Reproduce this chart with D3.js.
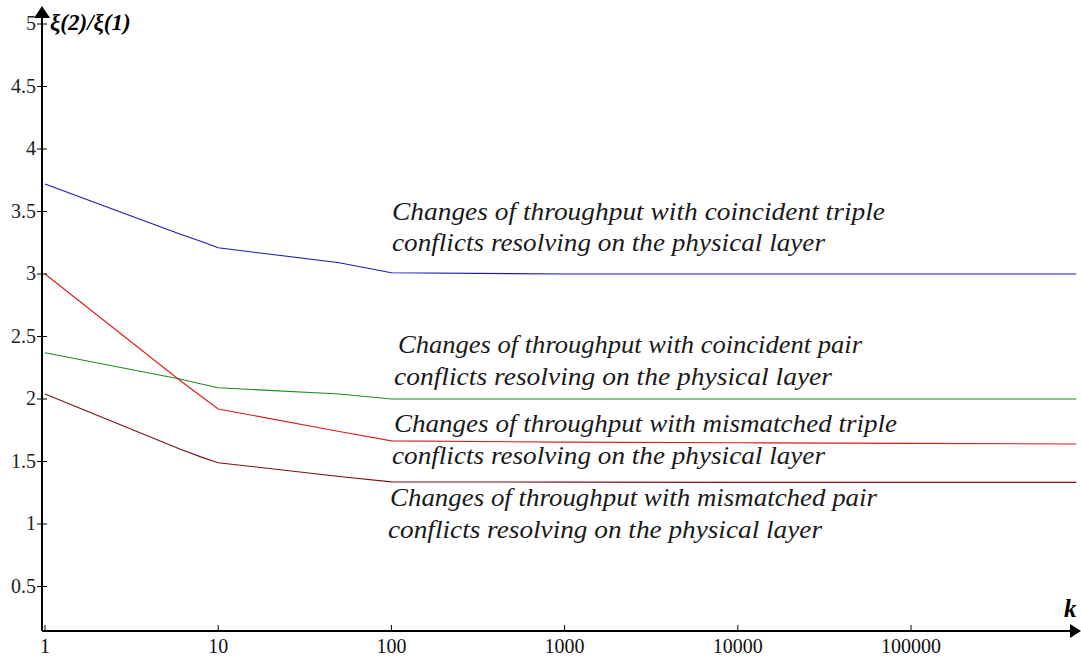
<!DOCTYPE html>
<html>
<head>
<meta charset="utf-8">
<script src="https://cdn.jsdelivr.net/npm/d3@7"></script>
<style>
  html, body { margin: 0; padding: 0; background: #fff; }
  svg { display: block; }
  svg text { font-family: 'Liberation Serif'; }
</style>
</head>
<body>
<svg id="chart" width="1081" height="658"></svg>
<script>
// ---- data ----
const xTicks = [1, 10, 100, 1000, 10000, 100000];
const xTickLabels = ["1", "10", "100", "1000", "10000", "100000"];
const yTicks = [0.5, 1, 1.5, 2, 2.5, 3, 3.5, 4, 4.5, 5];
const yTickLabels = ["0.5", "1", "1.5", "2", "2.5", "3", "3.5", "4", "4.5", "5"];

const kValues = [1, 6, 8, 10, 50, 100, 1000, 10000, 100000, 900000];
const coincidentTriple = [3.72, 3.32, 3.26, 3.21, 3.09, 3.01, 3.0, 3.0, 3.0, 3.0];
const coincidentPair   = [2.37, 2.16, 2.12, 2.09, 2.04, 2.0, 2.0, 2.0, 2.0, 2.0];
const mismatchedTriple = [3.0, 2.15, 2.02, 1.92, 1.74, 1.665, 1.655, 1.65, 1.645, 1.64];
const mismatchedPair   = [2.04, 1.6, 1.535, 1.49, 1.38, 1.337, 1.335, 1.333, 1.333, 1.333];

const seriesNames = ["coincidentTriple", "coincidentPair", "mismatchedTriple", "mismatchedPair"];
const seriesValues = [coincidentTriple, coincidentPair, mismatchedTriple, mismatchedPair];
const seriesColors = ["#1a1ab8", "#1f8a1f", "#d81c1c", "#7a0f14"];

const annotations = [
  ["Changes of throughput with coincident triple", "conflicts resolving on the physical layer"],
  ["Changes of throughput with coincident pair", "conflicts resolving on the physical layer"],
  ["Changes of throughput with mismatched triple", "conflicts resolving on the physical layer"],
  ["Changes of throughput with mismatched pair", "conflicts resolving on the physical layer"]
];

// ---- layout ----
const svg = d3.select("#chart");
const axisX = 42, axisY = 631;
const x = d3.scaleLog().domain([1, 1e6]).range([45, 45 + 6 * 173.2]);
const y = d3.scaleLinear().domain([0, 5]).range([649, 24]);
const FONT = "'Liberation Serif', 'Times New Roman', serif";

// lines
const line = d3.line().x((d, i) => x(kValues[i])).y(d => y(d));
seriesValues.forEach((vals, si) => {
  svg.append("path")
    .datum(vals)
    .attr("d", line)
    .attr("fill", "none")
    .attr("stroke", seriesColors[si])
    .attr("stroke-width", 1.1)
    .attr("class", "series-" + seriesNames[si]);
});

// axes
const axisG = svg.append("g");
axisG.append("line").attr("x1", axisX).attr("x2", 1072).attr("y1", axisY).attr("y2", axisY)
  .attr("stroke", "#000").attr("stroke-width", 2);
axisG.append("path").attr("d", `M1081,${axisY} L1070,${axisY - 7} L1070,${axisY + 7} Z`).attr("fill", "#000");
axisG.append("line").attr("x1", axisX).attr("x2", axisX).attr("y1", axisY).attr("y2", 16)
  .attr("stroke", "#000").attr("stroke-width", 2);
axisG.append("path").attr("d", `M${axisX},6 L${axisX - 8},18 L${axisX + 8},18 Z`).attr("fill", "#000");

// x ticks
xTicks.forEach((t, i) => {
  axisG.append("line").attr("x1", x(t)).attr("x2", x(t)).attr("y1", axisY - 6).attr("y2", axisY + 1)
    .attr("stroke", "#000").attr("stroke-width", 1);
  axisG.append("text").attr("x", x(t)).attr("y", 653)
    .attr("text-anchor", "middle")
    .style("font-family", FONT)
    .style("font-size", "20px").attr("fill", "#111")
    .text(xTickLabels[i]);
});

// y ticks
yTicks.forEach((t, i) => {
  axisG.append("line").attr("x1", axisX - 5).attr("x2", axisX + 5).attr("y1", y(t)).attr("y2", y(t))
    .attr("stroke", "#000").attr("stroke-width", 1);
  axisG.append("text").attr("x", 36).attr("y", y(t) + 6)
    .attr("text-anchor", "end")
    .style("font-family", FONT)
    .style("font-size", "20px").attr("fill", "#222")
    .text(yTickLabels[i]);
});

// axis titles
svg.append("text").attr("x", 50).attr("y", 30)
  .style("font-family", FONT)
  .style("font-style", "italic").style("font-weight", "bold")
  .style("font-size", "23px").attr("fill", "#000")
  .text("ξ(2)/ξ(1)");
svg.append("text").attr("x", 1064).attr("y", 617)
  .style("font-family", FONT)
  .style("font-style", "italic").style("font-weight", "bold")
  .style("font-size", "25px").attr("fill", "#000")
  .text("k");

// annotations
const annPos = [
  [[392, 220, 493], [392, 251, 433]],
  [[398, 353, 464], [394, 385, 438]],
  [[394, 432, 503], [392, 464, 433]],
  [[390, 506, 487], [388, 538, 434]]
];
annotations.forEach((lines, ai) => {
  lines.forEach((txt, li) => {
    const p = annPos[ai][li];
    svg.append("text").attr("x", p[0]).attr("y", p[1])
      .style("font-family", FONT)
      .style("font-style", "italic")
      .style("font-size", "25px").attr("fill", "#1a1a1a")
      .attr("textLength", p[2]).attr("lengthAdjust", "spacingAndGlyphs")
      .text(txt);
  });
});
</script>
</body>
</html>
